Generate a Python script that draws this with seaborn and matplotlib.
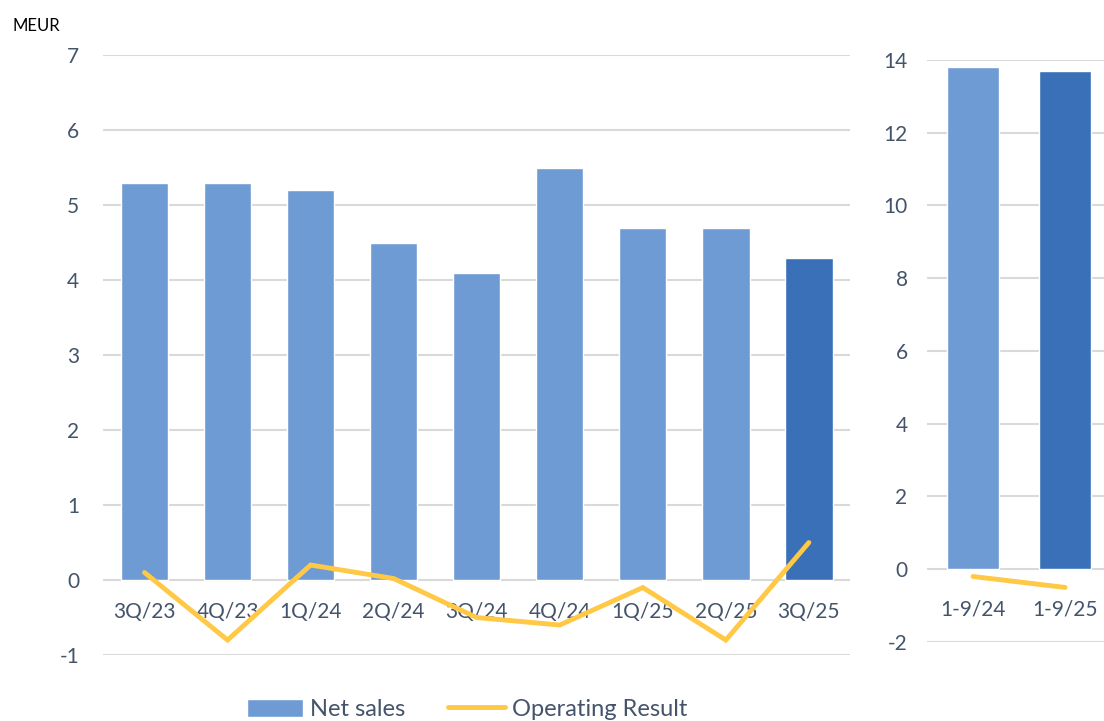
import numpy as np
import pandas as pd
import seaborn as sns
import matplotlib.pyplot as plt
from matplotlib.patches import Patch
from matplotlib.lines import Line2D

sns.set_style("white")
plt.rcParams['font.family'] = ['Lato', 'DejaVu Sans']
plt.rcParams['axes.unicode_minus'] = False

# quarterly data
quarters = ["3Q/23", "4Q/23", "1Q/24", "2Q/24", "3Q/24", "4Q/24", "1Q/25", "2Q/25", "3Q/25"]
net_sales_q = [5.3, 5.3, 5.2, 4.5, 4.1, 5.5, 4.7, 4.7, 4.3]
op_result_q = [0.1, -0.8, 0.2, 0.02, -0.5, -0.6, -0.1, -0.8, 0.5]

# year-to-date data
periods = ["1-9/24", "1-9/25"]
net_sales_ytd = [13.8, 13.7]
op_result_ytd = [-0.2, -0.5]

light_blue = "#6F9BD4"
dark_blue = "#3A70B8"
yellow = "#FFC845"
text_col = "#44546A"
grid_col = "#D9D9D9"

fig = plt.figure(figsize=(11.04, 7.21), dpi=100)
ax1 = fig.add_axes([0.0933, 0.0915, 0.677, 0.8322])
ax2 = fig.add_axes([0.8397, 0.1096, 0.1667, 0.8072])

def style(ax, pad_x, pad_y):
    for s in ["top", "right", "left"]:
        ax.spines[s].set_visible(False)
    ax.spines["bottom"].set_position(("data", 0))
    ax.spines["bottom"].set_visible(False)
    ax.yaxis.grid(True, color=grid_col, linewidth=1.5)
    ax.set_axisbelow(True)
    ax.tick_params(axis="x", length=0, pad=pad_x, labelsize=15, labelcolor=text_col)
    ax.tick_params(axis="y", length=0, pad=pad_y, labelsize=15, labelcolor=text_col)
    ax.set_xlabel("")
    ax.set_ylabel("")

# left panel: quarters
df_q = pd.DataFrame({"period": quarters, "sales": net_sales_q})
pal_q = [light_blue] * (len(quarters) - 1) + [dark_blue]
sns.barplot(data=df_q, x="period", y="sales", hue="period", palette=pal_q,
            width=0.57, saturation=1, legend=False, ax=ax1)
sns.lineplot(x=np.arange(len(quarters)), y=op_result_q, color=yellow, linewidth=3.5,
             solid_capstyle="round", solid_joinstyle="miter", ax=ax1, zorder=5)
ax1.set_ylim(-1, 7)
ax1.set_yticks(range(-1, 8))
ax1.set_xlim(-0.5, len(quarters) - 0.5)
style(ax1, 16, 17)

# right panel: year to date
df_y = pd.DataFrame({"period": periods, "sales": net_sales_ytd})
sns.barplot(data=df_y, x="period", y="sales", hue="period", palette=[light_blue, dark_blue],
            width=0.57, saturation=1, legend=False, ax=ax2)
sns.lineplot(x=np.arange(len(periods)), y=op_result_ytd, color=yellow, linewidth=3.5,
             solid_capstyle="round", ax=ax2, zorder=5)
ax2.set_ylim(-2, 14)
ax2.set_yticks(range(-2, 15, 2))
ax2.set_xlim(-0.5, len(periods) - 0.5)
style(ax2, 22, 14)

fig.text(0.011, 0.975, "MEUR", fontsize=12, color="black", va="top", ha="left")

handles = [Patch(facecolor=light_blue, label="Net sales"),
           Line2D([0], [0], color=yellow, linewidth=3.5, solid_capstyle="round",
                  label="Operating Result")]
fig.legend(handles=handles, loc="center", bbox_to_anchor=(0.423, 0.016), ncol=2,
           frameon=False, fontsize=17, labelcolor=text_col, handlelength=2.4,
           handleheight=0.8, columnspacing=1.8, handletextpad=0.3)

fig.savefig("out.png", dpi=100)
